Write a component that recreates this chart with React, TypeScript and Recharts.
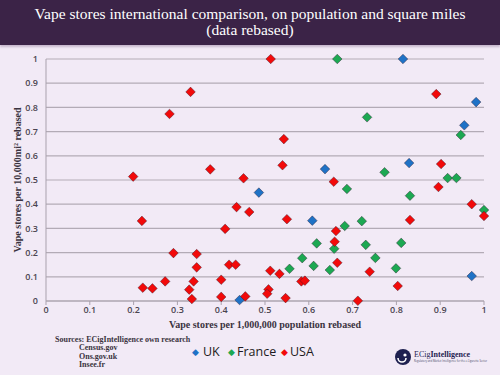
import React from "react";
import { ScatterChart, Scatter, XAxis, YAxis, CartesianGrid } from "recharts";

// x = stores per 1,000,000 population (rebased), y = stores per 10,000 mi² (rebased)
const ukPoints = [
  { x: 0.815, y: 1.0 },
  { x: 0.982, y: 0.822 },
  { x: 0.955, y: 0.726 },
  { x: 0.829, y: 0.57 },
  { x: 0.637, y: 0.545 },
  { x: 0.486, y: 0.448 },
  { x: 0.608, y: 0.332 },
  { x: 0.972, y: 0.103 },
  { x: 0.442, y: 0.004 },
];

const francePoints = [
  { x: 0.665, y: 1.0 },
  { x: 0.733, y: 0.759 },
  { x: 0.947, y: 0.686 },
  { x: 0.773, y: 0.532 },
  { x: 0.917, y: 0.508 },
  { x: 0.937, y: 0.508 },
  { x: 0.687, y: 0.463 },
  { x: 0.831, y: 0.435 },
  { x: 1.0, y: 0.376 },
  { x: 0.721, y: 0.33 },
  { x: 0.682, y: 0.31 },
  { x: 0.658, y: 0.216 },
  { x: 0.618, y: 0.238 },
  { x: 0.73, y: 0.232 },
  { x: 0.811, y: 0.24 },
  { x: 0.752, y: 0.178 },
  { x: 0.799, y: 0.135 },
  { x: 0.585, y: 0.177 },
  { x: 0.611, y: 0.145 },
  { x: 0.556, y: 0.133 },
  { x: 0.648, y: 0.128 },
];

const usaPoints = [
  { x: 0.33, y: 0.864 },
  { x: 0.282, y: 0.773 },
  { x: 0.199, y: 0.514 },
  { x: 0.513, y: 1.0 },
  { x: 0.543, y: 0.669 },
  { x: 0.375, y: 0.544 },
  { x: 0.54, y: 0.561 },
  { x: 0.451, y: 0.507 },
  { x: 0.891, y: 0.855 },
  { x: 0.902, y: 0.566 },
  { x: 0.219, y: 0.331 },
  { x: 0.291, y: 0.198 },
  { x: 0.221, y: 0.055 },
  { x: 0.243, y: 0.052 },
  { x: 0.272, y: 0.081 },
  { x: 0.327, y: 0.047 },
  { x: 0.333, y: 0.008 },
  { x: 0.344, y: 0.194 },
  { x: 0.344, y: 0.139 },
  { x: 0.337, y: 0.081 },
  { x: 0.409, y: 0.298 },
  { x: 0.435, y: 0.388 },
  { x: 0.464, y: 0.368 },
  { x: 0.418, y: 0.15 },
  { x: 0.433, y: 0.15 },
  { x: 0.4, y: 0.088 },
  { x: 0.4, y: 0.017 },
  { x: 0.455, y: 0.019 },
  { x: 0.657, y: 0.493 },
  { x: 0.55, y: 0.338 },
  { x: 0.662, y: 0.289 },
  { x: 0.659, y: 0.245 },
  { x: 0.665, y: 0.158 },
  { x: 0.512, y: 0.125 },
  { x: 0.533, y: 0.112 },
  { x: 0.583, y: 0.081 },
  { x: 0.591, y: 0.084 },
  { x: 0.508, y: 0.048 },
  { x: 0.505, y: 0.03 },
  { x: 0.547, y: 0.012 },
  { x: 0.896, y: 0.471 },
  { x: 0.972, y: 0.4 },
  { x: 1.0, y: 0.351 },
  { x: 0.831, y: 0.335 },
  { x: 0.739, y: 0.121 },
  { x: 0.803, y: 0.062 },
  { x: 0.712, y: 0.001 },
];

const axisTicks = [0, 0.1, 0.2, 0.3, 0.4, 0.5, 0.6, 0.7, 0.8, 0.9, 1];
const sources = ["Census.gov", "Ons.gov.uk", "Insee.fr"];

const UK_BLUE = "#1f72c6";
const FR_GREEN = "#1ca852";
const US_RED = "#f20a0a";
const BG = "#f2eaf6";
const SERIF = "'Liberation Serif', 'DejaVu Serif', serif";
const SANS = "'Open Sans', 'DejaVu Sans', sans-serif";

function diamond(color: string) {
  return (props: any) => {
    const { cx, cy } = props;
    if (cx == null || cy == null) return <g />;
    const r = 4.8;
    return (
      <polygon
        points={`${cx},${cy - r} ${cx + r},${cy} ${cx},${cy + r} ${cx - r},${cy}`}
        fill={color}
        stroke="rgba(40,20,40,0.45)"
        strokeWidth={0.9}
      />
    );
  };
}

const tickStyle = { fill: "#4a4450", fontSize: 9, fontFamily: SANS, fontWeight: 600 };

export default function App() {
  return (
    <div style={{ position: "absolute", left: 0, top: 0, width: 500, height: 375, background: BG, overflow: "hidden" }}>
      <div
        style={{
          position: "absolute",
          left: 0,
          top: 0,
          width: 500,
          height: 45,
          background: "#3b2347",
          boxShadow: "0 2px 2px rgba(120,90,130,0.35)",
          color: "#fff",
          fontFamily: SERIF,
          fontSize: 15.5,
          lineHeight: "16px",
          textAlign: "center",
          paddingTop: 6,
          boxSizing: "border-box",
        }}
      >
        Vape stores international comparison, on population and square miles
        <br />
        (data rebased)
      </div>

      <div style={{ position: "absolute", left: 0, top: 0 }}>
        <ScatterChart width={500} height={375} margin={{ top: 59, right: 16, bottom: 44, left: 10 }}>
          <CartesianGrid vertical={false} stroke="#b3abb6" strokeWidth={1.2} />
          <XAxis
            type="number"
            dataKey="x"
            domain={[0, 1]}
            ticks={axisTicks}
            height={30}
            stroke="#a9a1ad"
            tickLine={{ stroke: "#a9a1ad" }}
            tickSize={4}
            tick={tickStyle}
            interval={0}
          />
          <YAxis
            type="number"
            dataKey="y"
            domain={[0, 1]}
            ticks={axisTicks}
            width={36}
            stroke="#a9a1ad"
            tickLine={false}
            tick={tickStyle}
            interval={0}
          />
          <Scatter name="UK" data={ukPoints} shape={diamond(UK_BLUE)} isAnimationActive={false} />
          <Scatter name="France" data={francePoints} shape={diamond(FR_GREEN)} isAnimationActive={false} />
          <Scatter name="USA" data={usaPoints} shape={diamond(US_RED)} isAnimationActive={false} />
        </ScatterChart>
      </div>

      <svg style={{ position: "absolute", left: 0, top: 0 }} width={500} height={375}>
        <text
          transform="translate(21,180) rotate(-90)"
          textAnchor="middle"
          fontFamily={SERIF}
          fontSize={10}
          fontWeight={600}
          fill="#3a3340"
        >
          Vape stores per 10,000mi² rebased
        </text>
        <text x={265} y={328} textAnchor="middle" fontFamily={SERIF} fontSize={10} fontWeight={600} fill="#3a3340">
          Vape stores per 1,000,000 population rebased
        </text>
        <text x={55} y={342} fontFamily={SERIF} fontSize={8} fontWeight={600} fill="#3a3340">
          Sources: ECigIntelligence own research
        </text>
        {sources.map((s, i) => (
          <text key={s} x={79} y={350 + i * 8.5} fontFamily={SERIF} fontSize={8} fontWeight={600} fill="#3a3340">
            {s}
          </text>
        ))}

        {/* legend */}
        <g fontFamily={SANS} fontSize={12.5} fill="#1d1a20">
          <text x={192} y={355} fill={UK_BLUE} fontSize={9}>◆</text>
          <text x={203} y={356}>UK</text>
          <text x={228} y={355} fill={FR_GREEN} fontSize={9}>◆</text>
          <text x={237} y={356}>France</text>
          <text x={281} y={355} fill={US_RED} fontSize={9}>◆</text>
          <text x={290} y={356}>USA</text>
        </g>

        {/* logo */}
        <circle cx={403} cy={357} r={8} fill="#1f2150" />
        <path d="M398,358 a4,4 0 0 0 8,0" fill="none" stroke="#fff" strokeWidth={1.6} />
        <circle cx={405} cy={355} r={1.6} fill="#fff" />
        <text x={414} y={357} fontFamily={SERIF} fontSize={8} fill="#1f2150">
          ECig<tspan fontWeight={700}>Intelligence</tspan>
        </text>
        <text x={414} y={362} fontFamily={SANS} fontSize={2.6} fill="#4a4a6a">
          Regulatory and Market Intelligence for the e-Cigarette Sector
        </text>
      </svg>
    </div>
  );
}
